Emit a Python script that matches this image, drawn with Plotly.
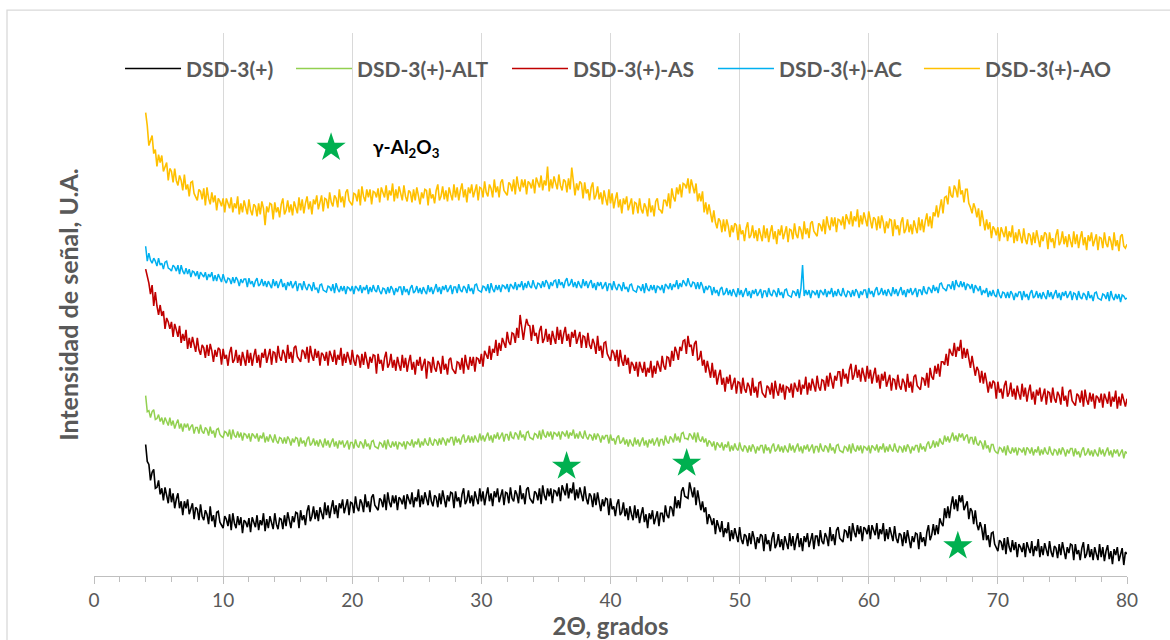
import numpy as np
import plotly.graph_objects as go

# 2-theta measurement grid (degrees), 0.125 deg steps from 4 to 80
two_theta = np.round(np.arange(4.0, 80.0001, 0.125), 3)

# Signal intensity (arbitrary units), 2 degrees per row
dsd3 = [
    132, 115, 112, 96, 104, 107, 88, 89, 96, 82, 88, 76, 89, 81, 73, 88,
    74, 83, 68, 77, 83, 68, 75, 61, 75, 68, 77, 62, 68, 73, 57, 69,
    67, 56, 72, 60, 56, 66, 62, 52, 70, 55, 61, 49, 64, 65, 54, 51,
    48, 60, 57, 50, 62, 46, 63, 53, 48, 60, 51, 59, 43, 56, 54, 49,
    58, 44, 59, 54, 49, 61, 46, 56, 51, 63, 45, 57, 48, 60, 52, 47,
    63, 52, 47, 58, 57, 47, 61, 50, 64, 57, 48, 60, 54, 64, 63, 48,
    66, 56, 61, 51, 65, 71, 55, 60, 70, 57, 66, 55, 69, 63, 57, 74,
    61, 71, 58, 68, 76, 62, 71, 58, 73, 68, 77, 63, 70, 77, 61, 74,
    73, 63, 80, 69, 65, 77, 73, 64, 82, 69, 75, 64, 79, 82, 71, 69,
    66, 78, 76, 69, 82, 66, 84, 74, 69, 81, 73, 81, 66, 79, 77, 72,
    81, 67, 82, 77, 72, 84, 69, 79, 75, 87, 69, 81, 72, 84, 76, 71,
    86, 75, 70, 81, 79, 69, 83, 72, 86, 79, 69, 81, 75, 84, 83, 68,
    85, 75, 79, 69, 82, 88, 72, 76, 86, 73, 81, 70, 85, 78, 72, 88,
    75, 85, 71, 81, 89, 75, 83, 70, 85, 79, 88, 74, 81, 87, 71, 84,
    83, 73, 89, 78, 75, 86, 82, 73, 91, 77, 83, 72, 87, 89, 78, 76,
    73, 85, 83, 76, 88, 72, 91, 81, 76, 88, 80, 88, 73, 86, 85, 80,
    89, 75, 91, 86, 81, 93, 78, 88, 83, 94, 76, 87, 78, 89, 81, 75,
    90, 78, 72, 83, 80, 69, 83, 71, 84, 76, 65, 77, 70, 78, 77, 61,
    78, 67, 70, 60, 72, 77, 61, 64, 74, 60, 68, 56, 70, 62, 56, 71,
    58, 67, 53, 62, 69, 54, 62, 48, 63, 57, 66, 52, 59, 65, 50, 63,
    63, 54, 71, 61, 58, 70, 68, 60, 80, 68, 76, 68, 85, 89, 80, 79,
    78, 94, 87, 79, 89, 71, 86, 73, 66, 75, 64, 69, 52, 62, 58, 51,
    58, 42, 56, 50, 44, 55, 39, 48, 43, 54, 35, 46, 37, 48, 40, 34,
    49, 37, 32, 42, 40, 30, 43, 32, 45, 38, 27, 39, 33, 42, 40, 25,
    42, 32, 36, 25, 38, 44, 28, 32, 42, 29, 37, 26, 40, 33, 27, 43,
    30, 40, 26, 36, 43, 29, 38, 25, 40, 34, 43, 29, 37, 43, 27, 40,
    40, 30, 46, 35, 32, 43, 39, 30, 49, 35, 42, 31, 46, 49, 38, 36,
    34, 46, 45, 38, 50, 35, 53, 44, 39, 51, 42, 50, 35, 49, 47, 42,
    51, 37, 51, 46, 41, 53, 37, 47, 42, 53, 35, 47, 37, 49, 40, 35,
    50, 38, 33, 43, 41, 30, 44, 33, 46, 38, 28, 40, 34, 43, 42, 27,
    44, 34, 39, 30, 44, 51, 36, 41, 52, 41, 51, 42, 58, 53, 50, 68,
    58, 70, 58, 71, 80, 67, 77, 65, 81, 74, 81, 66, 71, 75, 57, 68,
    65, 52, 66, 52, 46, 54, 48, 36, 52, 36, 41, 29, 43, 44, 32, 29,
    25, 36, 34, 26, 38, 22, 39, 29, 24, 36, 26, 34, 19, 32, 29, 24,
    33, 19, 34, 28, 23, 35, 20, 30, 25, 37, 19, 30, 21, 33, 25, 20,
    35, 24, 19, 30, 28, 18, 32, 21, 34, 27, 17, 29, 23, 32, 31, 16,
    32, 22, 26, 16, 28, 34, 18, 22, 32, 19, 27, 16, 29, 22, 16, 32,
    19, 29, 15, 25, 31, 17, 25, 12, 27, 21, 29, 15, 22, 28, 11, 24,
    22,
]

dsd3_alt = [
    181, 165, 166, 159, 165, 167, 157, 158, 162, 155, 159, 152, 159, 154, 151, 159,
    151, 156, 148, 153, 157, 148, 153, 145, 153, 149, 153, 146, 150, 152, 143, 149,
    149, 143, 152, 145, 143, 149, 147, 141, 150, 143, 146, 139, 147, 148, 142, 140,
    139, 145, 144, 140, 147, 137, 147, 141, 139, 145, 139, 144, 136, 143, 142, 138,
    143, 135, 143, 141, 138, 143, 135, 141, 138, 144, 134, 140, 135, 142, 137, 134,
    142, 136, 133, 139, 138, 133, 139, 133, 140, 137, 131, 138, 134, 139, 138, 130,
    139, 133, 136, 130, 137, 140, 131, 133, 138, 131, 136, 130, 137, 133, 129, 138,
    131, 136, 129, 134, 138, 130, 135, 128, 136, 132, 136, 129, 133, 136, 127, 134,
    134, 128, 137, 131, 129, 135, 133, 128, 137, 130, 133, 127, 135, 136, 130, 129,
    128, 134, 133, 129, 136, 127, 137, 131, 129, 135, 130, 135, 127, 134, 133, 130,
    135, 127, 135, 133, 131, 137, 129, 135, 132, 138, 129, 135, 131, 138, 133, 131,
    139, 133, 131, 137, 136, 131, 138, 132, 139, 136, 131, 138, 134, 139, 139, 131,
    140, 134, 138, 132, 139, 142, 134, 136, 141, 134, 140, 134, 141, 137, 134, 143,
    136, 141, 135, 140, 144, 136, 141, 134, 142, 138, 144, 137, 141, 144, 135, 142,
    142, 136, 145, 139, 138, 144, 142, 137, 146, 139, 142, 136, 144, 145, 139, 138,
    137, 143, 142, 138, 146, 137, 147, 141, 139, 145, 140, 145, 137, 144, 143, 140,
    145, 137, 145, 143, 140, 146, 138, 144, 141, 147, 138, 143, 138, 145, 140, 138,
    146, 140, 137, 142, 141, 136, 143, 137, 143, 140, 134, 141, 137, 141, 141, 133,
    142, 136, 138, 132, 139, 141, 133, 135, 139, 132, 137, 130, 137, 133, 130, 139,
    132, 137, 130, 135, 139, 131, 136, 129, 137, 133, 138, 131, 136, 139, 130, 137,
    137, 131, 141, 135, 133, 140, 138, 134, 143, 136, 140, 134, 143, 144, 138, 138,
    137, 143, 141, 137, 144, 134, 144, 137, 135, 140, 134, 138, 130, 136, 134, 130,
    135, 126, 134, 132, 129, 134, 126, 132, 129, 135, 125, 131, 126, 133, 128, 126,
    134, 128, 125, 131, 129, 124, 131, 125, 132, 129, 123, 130, 126, 131, 131, 123,
    132, 126, 129, 123, 130, 133, 125, 127, 132, 125, 130, 124, 131, 127, 124, 133,
    126, 131, 124, 129, 133, 125, 130, 123, 131, 127, 132, 125, 129, 132, 123, 130,
    130, 124, 133, 127, 125, 131, 129, 124, 133, 126, 129, 123, 131, 132, 126, 125,
    124, 130, 129, 125, 132, 123, 133, 127, 125, 131, 126, 131, 123, 130, 129, 126,
    131, 123, 131, 129, 126, 132, 124, 130, 127, 133, 124, 130, 125, 132, 127, 125,
    133, 127, 124, 130, 129, 124, 131, 125, 132, 129, 123, 130, 126, 131, 131, 124,
    133, 127, 130, 125, 132, 135, 128, 130, 136, 129, 135, 130, 138, 134, 132, 141,
    135, 140, 134, 139, 144, 136, 141, 135, 143, 139, 143, 136, 140, 142, 133, 139,
    139, 132, 140, 133, 131, 136, 133, 127, 136, 128, 131, 124, 132, 132, 126, 124,
    123, 129, 128, 124, 130, 121, 131, 125, 123, 129, 124, 129, 121, 128, 127, 124,
    129, 121, 129, 127, 123, 129, 121, 127, 124, 130, 121, 127, 122, 129, 124, 122,
    130, 124, 121, 127, 126, 121, 128, 122, 129, 126, 120, 127, 123, 128, 128, 120,
    128, 122, 125, 119, 126, 129, 121, 123, 128, 121, 126, 120, 127, 123, 120, 129,
    122, 127, 120, 125, 129, 121, 126, 119, 127, 123, 127, 120, 124, 127, 118, 125,
    123,
]

dsd3_as = [
    308, 302, 294, 283, 292, 271, 285, 271, 262, 272, 261, 266, 248, 259, 255, 248,
    255, 240, 253, 247, 240, 251, 234, 243, 236, 247, 228, 239, 229, 240, 231, 225,
    239, 227, 222, 232, 229, 219, 232, 221, 233, 226, 215, 227, 220, 229, 227, 212,
    228, 218, 222, 211, 224, 230, 214, 217, 227, 214, 222, 211, 225, 217, 211, 227,
    214, 224, 211, 221, 228, 214, 222, 209, 224, 219, 228, 214, 221, 228, 212, 225,
    224, 214, 231, 220, 216, 227, 223, 214, 232, 218, 225, 214, 229, 231, 220, 218,
    215, 227, 225, 218, 230, 214, 231, 221, 216, 228, 219, 226, 211, 224, 222, 216,
    225, 211, 226, 221, 215, 227, 212, 222, 217, 229, 211, 223, 214, 225, 217, 212,
    227, 216, 211, 222, 220, 209, 223, 212, 225, 218, 208, 220, 214, 222, 221, 203,
    223, 213, 217, 206, 219, 225, 209, 213, 223, 209, 217, 206, 220, 212, 206, 222,
    209, 219, 205, 215, 222, 207, 215, 202, 217, 211, 220, 206, 212, 218, 198, 215,
    214, 204, 220, 209, 205, 216, 212, 203, 221, 207, 213, 202, 217, 219, 208, 206,
    203, 215, 214, 207, 219, 203, 222, 212, 207, 220, 211, 220, 205, 219, 218, 213,
    223, 210, 226, 222, 218, 231, 217, 228, 224, 237, 221, 234, 226, 239, 233, 229,
    245, 235, 232, 244, 243, 234, 249, 239, 262, 247, 237, 249, 258, 252, 251, 236,
    252, 241, 244, 233, 246, 251, 234, 238, 248, 235, 243, 232, 246, 239, 233, 250,
    237, 247, 233, 243, 250, 236, 243, 230, 245, 239, 247, 233, 240, 245, 229, 241,
    240, 229, 244, 232, 228, 238, 233, 223, 241, 226, 231, 219, 234, 235, 223, 220,
    216, 227, 224, 216, 227, 210, 227, 216, 211, 222, 212, 219, 203, 215, 212, 206,
    215, 200, 215, 209, 204, 215, 200, 209, 204, 216, 199, 211, 203, 216, 209, 205,
    221, 211, 207, 220, 219, 210, 226, 216, 230, 225, 217, 230, 226, 236, 237, 223,
    241, 230, 232, 221, 233, 236, 217, 218, 226, 211, 217, 204, 216, 207, 199, 214,
    199, 207, 192, 201, 207, 192, 199, 185, 200, 193, 202, 187, 194, 199, 183, 195,
    194, 183, 199, 188, 184, 194, 190, 181, 199, 184, 190, 179, 194, 195, 184, 182,
    179, 191, 189, 182, 194, 178, 196, 186, 181, 193, 184, 192, 177, 190, 189, 184,
    193, 179, 194, 189, 185, 197, 182, 192, 188, 200, 182, 194, 186, 198, 190, 185,
    201, 190, 186, 197, 196, 186, 201, 190, 204, 197, 188, 201, 196, 205, 205, 190,
    208, 198, 203, 193, 207, 213, 197, 202, 212, 199, 207, 195, 209, 202, 195, 211,
    198, 207, 193, 202, 209, 194, 202, 188, 203, 196, 205, 190, 197, 202, 186, 198,
    197, 187, 202, 191, 187, 198, 194, 185, 203, 189, 195, 184, 200, 202, 191, 189,
    187, 199, 198, 191, 204, 189, 209, 200, 197, 211, 203, 213, 200, 215, 215, 212,
    223, 211, 228, 224, 221, 234, 220, 230, 226, 237, 218, 229, 219, 228, 217, 209,
    221, 208, 201, 210, 206, 194, 206, 193, 204, 195, 184, 195, 188, 196, 194, 178,
    195, 184, 188, 178, 191, 196, 180, 184, 194, 180, 188, 177, 191, 183, 177, 193,
    180, 189, 175, 185, 192, 177, 185, 172, 187, 181, 189, 175, 182, 188, 172, 185,
    184, 174, 189, 178, 174, 185, 181, 172, 190, 176, 181, 170, 185, 187, 176, 174,
    171, 183, 181, 174, 186, 170, 187, 177, 172, 184, 175, 183, 168, 181, 179, 174,
    183, 169, 183, 178, 173, 185, 170, 180, 175, 186, 168, 180, 171, 183, 175, 170,
    178,
]

dsd3_ac = [
    331, 316, 324, 317, 314, 319, 316, 311, 319, 312, 314, 308, 315, 316, 309, 308,
    306, 312, 310, 306, 312, 303, 312, 306, 303, 309, 303, 308, 300, 306, 305, 301,
    306, 298, 305, 303, 300, 305, 297, 303, 300, 305, 296, 302, 296, 303, 298, 295,
    303, 297, 294, 299, 298, 293, 300, 294, 300, 297, 291, 298, 294, 298, 298, 290,
    299, 293, 296, 290, 296, 299, 291, 293, 298, 291, 296, 290, 296, 292, 289, 298,
    291, 296, 289, 294, 298, 290, 294, 287, 295, 291, 296, 289, 292, 296, 286, 293,
    293, 287, 296, 290, 287, 293, 291, 286, 295, 288, 289, 284, 292, 293, 287, 286,
    285, 291, 290, 286, 293, 284, 294, 288, 285, 291, 286, 291, 283, 290, 289, 286,
    291, 283, 291, 289, 286, 292, 284, 290, 287, 292, 283, 290, 285, 292, 287, 285,
    292, 286, 283, 289, 288, 283, 290, 284, 291, 288, 282, 289, 285, 290, 290, 282,
    291, 285, 288, 282, 289, 292, 284, 286, 291, 284, 289, 283, 290, 286, 283, 292,
    285, 290, 283, 288, 293, 285, 290, 283, 291, 287, 292, 285, 289, 292, 283, 290,
    290, 284, 293, 287, 285, 291, 289, 284, 293, 286, 289, 283, 292, 293, 287, 286,
    285, 291, 290, 286, 293, 284, 294, 288, 285, 292, 287, 292, 285, 292, 291, 288,
    293, 285, 293, 291, 288, 295, 287, 293, 290, 296, 287, 294, 289, 296, 291, 289,
    297, 291, 288, 294, 293, 289, 296, 290, 297, 294, 288, 295, 291, 296, 297, 289,
    298, 292, 295, 289, 296, 299, 291, 293, 298, 290, 295, 289, 296, 292, 289, 298,
    291, 296, 289, 294, 297, 289, 294, 287, 295, 291, 295, 288, 292, 295, 286, 293,
    293, 287, 296, 290, 287, 293, 291, 286, 295, 288, 290, 285, 292, 293, 287, 286,
    285, 291, 290, 286, 293, 284, 294, 288, 286, 292, 287, 292, 284, 291, 290, 287,
    292, 284, 293, 291, 288, 294, 287, 293, 290, 297, 288, 294, 290, 297, 293, 291,
    299, 293, 290, 295, 294, 288, 295, 288, 295, 291, 284, 291, 287, 291, 290, 282,
    290, 284, 287, 281, 288, 290, 282, 284, 289, 282, 287, 281, 288, 284, 280, 289,
    282, 287, 280, 285, 289, 281, 286, 279, 287, 283, 288, 281, 285, 288, 279, 286,
    286, 280, 289, 283, 281, 287, 285, 280, 289, 282, 285, 279, 287, 288, 282, 281,
    280, 286, 285, 281, 288, 279, 289, 312, 281, 287, 282, 287, 279, 286, 285, 282,
    287, 279, 287, 285, 282, 288, 280, 286, 283, 289, 280, 286, 281, 288, 283, 281,
    289, 283, 280, 286, 285, 280, 287, 281, 288, 285, 279, 286, 282, 287, 287, 279,
    289, 283, 286, 280, 287, 290, 282, 284, 289, 282, 287, 281, 288, 284, 281, 290,
    283, 288, 281, 286, 290, 282, 287, 280, 288, 284, 289, 282, 286, 289, 280, 287,
    287, 282, 291, 285, 283, 290, 288, 284, 292, 286, 290, 284, 293, 294, 289, 288,
    286, 292, 292, 288, 296, 287, 297, 292, 290, 296, 290, 295, 287, 293, 292, 288,
    293, 284, 292, 289, 286, 291, 282, 287, 284, 289, 280, 286, 281, 287, 282, 280,
    288, 282, 279, 285, 284, 279, 285, 279, 286, 283, 277, 284, 280, 285, 285, 277,
    286, 280, 283, 277, 284, 287, 279, 281, 286, 279, 284, 278, 285, 281, 278, 287,
    280, 285, 278, 283, 287, 279, 284, 277, 285, 281, 286, 279, 283, 286, 277, 284,
    283, 277, 286, 280, 278, 284, 282, 277, 286, 279, 282, 276, 284, 285, 279, 278,
    277, 283, 282, 278, 285, 276, 286, 280, 277, 283, 278, 283, 275, 282, 281, 278,
    279,
]

dsd3_ao = [
    465, 452, 432, 438, 442, 424, 428, 411, 423, 415, 422, 406, 411, 415, 397, 409,
    406, 395, 409, 397, 392, 402, 397, 387, 403, 388, 393, 381, 395, 396, 384, 381,
    377, 388, 386, 378, 389, 372, 390, 379, 373, 385, 375, 382, 367, 379, 376, 371,
    379, 365, 379, 374, 369, 380, 365, 374, 369, 381, 363, 374, 365, 377, 369, 363,
    378, 367, 362, 373, 371, 361, 374, 363, 376, 369, 352, 371, 365, 374, 373, 358,
    375, 365, 370, 360, 373, 379, 363, 367, 377, 365, 373, 362, 376, 370, 364, 380,
    367, 378, 364, 374, 381, 368, 376, 363, 378, 373, 382, 368, 375, 382, 366, 379,
    378, 369, 385, 375, 371, 382, 379, 370, 388, 375, 381, 370, 385, 388, 377, 375,
    372, 384, 383, 376, 388, 372, 391, 381, 376, 388, 380, 388, 373, 386, 385, 380,
    389, 375, 390, 385, 380, 392, 377, 387, 382, 394, 376, 388, 379, 391, 382, 377,
    392, 381, 376, 387, 385, 375, 388, 377, 390, 383, 373, 385, 379, 388, 387, 372,
    389, 379, 383, 374, 387, 393, 377, 381, 391, 378, 387, 376, 390, 383, 377, 393,
    380, 390, 377, 387, 394, 380, 388, 375, 390, 384, 393, 380, 387, 393, 377, 390,
    389, 380, 396, 385, 381, 393, 389, 380, 398, 385, 391, 380, 395, 398, 387, 385,
    382, 395, 393, 386, 398, 383, 401, 391, 386, 398, 390, 398, 383, 396, 394, 389,
    398, 384, 400, 395, 390, 402, 387, 397, 392, 411, 386, 398, 389, 401, 393, 388,
    403, 392, 387, 398, 396, 385, 399, 388, 410, 393, 382, 394, 387, 396, 394, 379,
    395, 384, 388, 377, 390, 395, 378, 382, 391, 378, 385, 373, 387, 379, 372, 388,
    374, 384, 369, 378, 385, 370, 378, 364, 379, 373, 381, 367, 374, 379, 363, 375,
    374, 364, 379, 368, 364, 374, 370, 361, 379, 365, 372, 361, 376, 379, 368, 367,
    364, 377, 377, 371, 384, 369, 389, 380, 376, 390, 383, 393, 380, 394, 393, 389,
    399, 384, 398, 391, 384, 394, 376, 384, 376, 386, 365, 375, 363, 373, 362, 355,
    367, 355, 349, 359, 356, 345, 358, 346, 358, 351, 340, 352, 345, 354, 352, 337,
    353, 343, 347, 336, 349, 355, 339, 342, 352, 339, 347, 336, 349, 342, 336, 352,
    339, 349, 335, 345, 352, 338, 346, 333, 348, 342, 352, 338, 345, 351, 335, 348,
    347, 338, 354, 343, 339, 351, 347, 338, 356, 343, 349, 339, 354, 356, 346, 344,
    341, 354, 352, 346, 358, 343, 361, 352, 347, 360, 351, 360, 345, 358, 357, 352,
    361, 348, 363, 358, 353, 366, 351, 361, 356, 368, 350, 362, 353, 365, 356, 351,
    366, 355, 349, 360, 358, 347, 361, 349, 362, 355, 344, 356, 349, 358, 357, 341,
    358, 348, 352, 342, 355, 360, 344, 348, 358, 345, 353, 343, 357, 350, 344, 360,
    347, 358, 345, 356, 364, 351, 361, 349, 365, 361, 372, 360, 369, 378, 364, 380,
    381, 373, 391, 382, 380, 392, 388, 380, 398, 383, 387, 375, 388, 388, 374, 370,
    364, 374, 369, 360, 369, 351, 367, 354, 347, 358, 348, 355, 339, 351, 348, 342,
    350, 336, 350, 345, 340, 351, 336, 346, 340, 352, 334, 345, 336, 348, 340, 334,
    349, 338, 333, 344, 342, 332, 345, 334, 347, 340, 330, 342, 336, 345, 343, 328,
    345, 335, 339, 329, 342, 348, 332, 336, 346, 333, 341, 330, 343, 336, 330, 346,
    333, 343, 329, 339, 346, 332, 340, 327, 342, 336, 345, 331, 337, 343, 327, 340,
    339, 329, 345, 334, 330, 341, 336, 327, 345, 331, 337, 326, 341, 343, 331, 329,
    333,
]

series_names = ["DSD-3(+)", "DSD-3(+)-ALT", "DSD-3(+)-AS", "DSD-3(+)-AC", "DSD-3(+)-AO"]
series_values = [dsd3, dsd3_alt, dsd3_as, dsd3_ac, dsd3_ao]
series_colors = ["#000000", "#92D050", "#C00000", "#00B0F0", "#FFC000"]
series_widths = [1.6, 1.5, 1.6, 1.5, 1.6]

for _vals in series_values:
    assert len(_vals) == len(two_theta), (len(_vals), len(two_theta))

# gamma-Al2O3 reflection markers (2theta, height)
star_x = [36.6, 45.9, 66.9]
star_y = [110, 113, 30]
key_star_x = [18.36]
key_star_y = [430]

legend_ids = ["legend", "legend2", "legend3", "legend4", "legend5"]
legend_x = [0.0252, 0.1907, 0.3998, 0.5992, 0.7986]

fig = go.Figure()
for name, vals, col, lw, lid in zip(series_names, series_values, series_colors, series_widths, legend_ids):
    fig.add_trace(go.Scatter(
        x=two_theta, y=vals, mode="lines", name=name, legend=lid,
        line=dict(color=col, width=lw),
    ))

fig.add_trace(go.Scatter(
    x=star_x + key_star_x, y=star_y + key_star_y, mode="markers", showlegend=False,
    marker=dict(symbol="star", size=22, color="#00B050", line=dict(width=0)),
))

fig.add_annotation(
    x=24.2, y=430, xref="x", yref="y", text="<b>γ-Al<sub>2</sub>O<sub>3</sub></b>",
    showarrow=False, font=dict(family="Lato", size=19, color="#000000"),
)

font_gray = "#595959"
legend_layout = {}
for lid, lx in zip(legend_ids, legend_x):
    legend_layout[lid] = dict(
        orientation="h", x=lx, xanchor="left", y=0.934, yanchor="middle",
        font=dict(family="Lato", size=21, color=font_gray, weight="bold"),
        bgcolor="rgba(0,0,0,0)", itemwidth=56,
    )

fig.update_layout(
    width=1170, height=640,
    margin=dict(l=94, r=43, t=33, b=62),
    paper_bgcolor="white", plot_bgcolor="white",
    font=dict(family="Lato", color=font_gray),
    showlegend=True,
    xaxis=dict(
        range=[0, 80], tick0=0, dtick=10, showgrid=True, gridcolor="#d9d9d9", gridwidth=1.3,
        showline=True, linecolor="#bfbfbf", linewidth=1.3, zeroline=False,
        ticks="outside", ticklen=7, tickcolor="#bfbfbf", tickwidth=1.3,
        minor=dict(dtick=2, ticks="outside", ticklen=5, tickcolor="#bfbfbf", tickwidth=1.3, showgrid=False),
        tickfont=dict(family="Lato", size=19, color=font_gray),
        title=dict(text="<b>2Θ, grados</b>", font=dict(family="Lato", size=24, color=font_gray), standoff=0),
    ),
    yaxis=dict(
        range=[0, 545], showgrid=False, zeroline=False, showline=False, showticklabels=False, ticks="",
        title=dict(text="<b>Intensidad de señal, U.A.</b>", font=dict(family="Lato", size=25, color=font_gray), standoff=7),
    ),
    shapes=[dict(
        type="rect", xref="paper", yref="paper",
        x0=(7 - 94) / 1033, x1=(1190 - 94) / 1033, y0=(578 - 660) / 545, y1=(578 - 10) / 545,
        line=dict(color="#d9d9d9", width=1.3), fillcolor="rgba(0,0,0,0)", layer="below",
    )],
    **legend_layout,
)

fig.write_html("out.html")
